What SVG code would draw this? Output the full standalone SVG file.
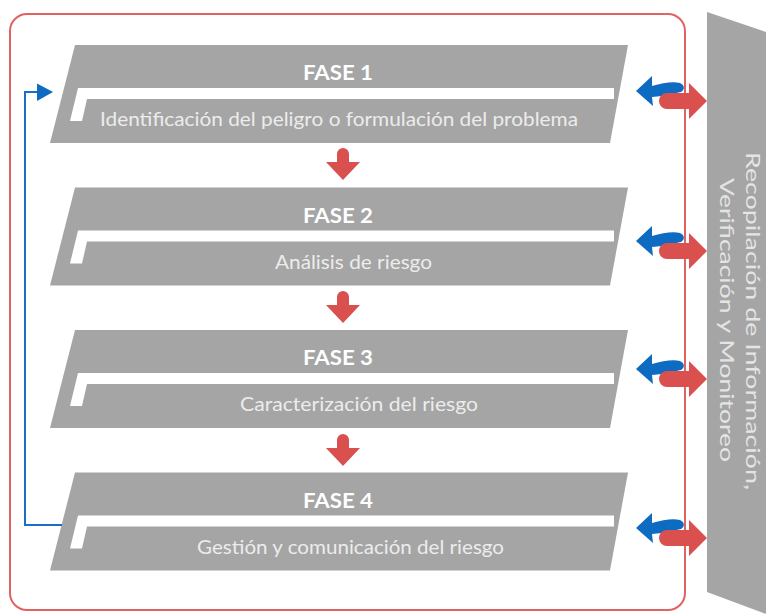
<svg xmlns="http://www.w3.org/2000/svg" width="766" height="614" viewBox="0 0 766 614">
  <defs>
    <style>
      .frame { fill: none; stroke: #e06363; stroke-width: 2; }
      .phase { fill: #a5a5a5; }
      .bar { fill: #ffffff; }
      .title { font-family: Lato, "Open Sans", sans-serif; font-weight: bold; font-size: 20px; fill: #ffffff; text-anchor: middle; }
      .desc { font-family: Lato, "Open Sans", sans-serif; font-size: 19px; fill: #ececec; text-anchor: middle; }
      .side { font-family: Lato, "Open Sans", sans-serif; font-size: 20px; fill: #e4e4e4; text-anchor: middle; }
      .down { fill: #d9504e; }
      .out { fill: #d9504e; }
      .in { fill: #0d6bc2; }
      .loop { fill: none; stroke: #1a6fc4; stroke-width: 2; }
    </style>
    <!-- phase card: slanted panel with white L-shaped band -->
    <g id="card">
      <polygon class="phase" points="75,0 628,0 610,98 50,98"/>
      <polygon class="bar" points="78,43 614,43 614,54 87,54 82,76 70,76"/>
    </g>
    <!-- pair of exchange arrows on the right, centred on the red arrow axis -->
    <g id="exchange">
      <path class="in" d="M636,-10 L652,-25 L652,-15 C663,-18 673,-20 680,-18 C685,-16 685,-11 681,-9 L662,-5 L652,-4 L653,5 Z"/>
      <path class="out" d="M667,-8 L689,-8 L689,-18 L707,0 L689,18 L689,8 L667,8 A8,8 0 0 1 667,-8 Z"/>
    </g>
    <path id="down" class="down" d="M337,162 L337,154 A6,6 0 0 1 349,154 L349,162 L360,162 L343,180 L326,162 Z"/>
  </defs>

  <!-- right side banner -->
  <g id="monitoring">
    <polygon class="phase" points="707,12 766,32 766,614 707,592"/>
    <text class="side" transform="translate(746,321) rotate(90)" textLength="338" lengthAdjust="spacingAndGlyphs">Recopilación de Información,</text>
    <text class="side" transform="translate(720,320) rotate(90)" textLength="284" lengthAdjust="spacingAndGlyphs">Verificación y Monitoreo</text>
  </g>

  <!-- outer frame -->
  <rect class="frame" x="10" y="14" width="675" height="596" rx="17" ry="17"/>

  <g id="fase1">
    <use href="#card" transform="translate(0,45)"/>
    <text class="title" x="338" y="80" textLength="70" lengthAdjust="spacingAndGlyphs">FASE 1</text>
    <text class="desc" x="339" y="126" textLength="478" lengthAdjust="spacingAndGlyphs">Identificación del peligro o formulación del problema</text>
  </g>

  <g id="fase2">
    <use href="#card" transform="translate(0,187.5)"/>
    <text class="title" x="338" y="222.5" textLength="70" lengthAdjust="spacingAndGlyphs">FASE 2</text>
    <text class="desc" x="353.5" y="269" textLength="157" lengthAdjust="spacingAndGlyphs">Análisis de riesgo</text>
  </g>

  <g id="fase3">
    <use href="#card" transform="translate(0,330)"/>
    <text class="title" x="338" y="365" textLength="70" lengthAdjust="spacingAndGlyphs">FASE 3</text>
    <text class="desc" x="359" y="411" textLength="238" lengthAdjust="spacingAndGlyphs">Caracterización del riesgo</text>
  </g>

  <g id="fase4">
    <use href="#card" transform="translate(0,472.5)"/>
    <text class="title" x="338" y="507.5" textLength="70" lengthAdjust="spacingAndGlyphs">FASE 4</text>
    <text class="desc" x="350.5" y="554" textLength="307" lengthAdjust="spacingAndGlyphs">Gestión y comunicación del riesgo</text>
  </g>

  <g id="connectors">
    <!-- flow between phases -->
    <use href="#down"/>
    <use href="#down" transform="translate(0,143)"/>
    <use href="#down" transform="translate(0,286)"/>
    <!-- feedback loop from phase 4 back to phase 1 -->
    <path class="loop" d="M62,525 H25 V92 H37"/>
    <polygon class="in" points="37,83.5 53,92 37,101"/>
    <!-- exchanges with the monitoring banner -->
    <use href="#exchange" transform="translate(0,101)"/>
    <use href="#exchange" transform="translate(0,251)"/>
    <use href="#exchange" transform="translate(0,379)"/>
    <use href="#exchange" transform="translate(0,538)"/>
  </g>
</svg>
